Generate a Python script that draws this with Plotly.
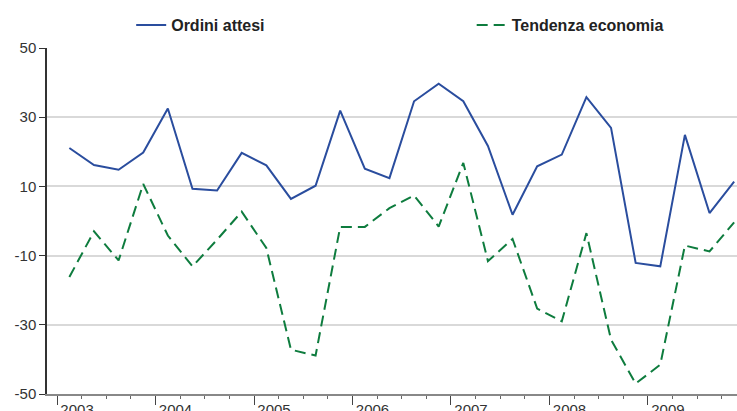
import plotly.graph_objects as go

# quarterly data 2003 Q1 - 2009 Q4
years = [2003, 2004, 2005, 2006, 2007, 2008, 2009]
year_labels = [str(y) for y in years]
quarters = [y + (q - 0.5) / 4 for y in years for q in range(1, 5)]

y_ticks = [-50, -30, -10, 10, 30, 50]
y_labels = [str(v) for v in y_ticks]

ordini_attesi = [21.1, 16.2, 14.8, 19.8, 32.5, 9.3, 8.8, 19.7,
                 16.1, 6.4, 10.2, 31.9, 15.1, 12.4, 34.6, 39.7,
                 34.6, 21.7, 1.8, 15.8, 19.2, 35.8, 26.9, -12.1,
                 -13.1, 24.9, 2.3, 11.4]
tendenza_economia = [-16.2, -3.0, -11.4, 10.7, -4.2, -13.1, -5.4, 2.7,
                     -7.8, -37.2, -38.9, -1.7, -1.7, 3.7, 7.4, -1.6,
                     16.8, -11.6, -5.2, -25.3, -29.0, -3.5, -34.3, -47.0,
                     -41.5, -7.1, -8.8, -0.4]

legend_font = dict(family='Liberation Sans', size=16, color='#222', weight='bold')

fig = go.Figure()
fig.add_trace(go.Scatter(
    x=quarters, y=ordini_attesi, mode='lines', name='Ordini attesi',
    line=dict(color='#2a4d9e', width=2), legend='legend',
))
fig.add_trace(go.Scatter(
    x=quarters, y=tendenza_economia, mode='lines', name='Tendenza economia',
    line=dict(color='#0e7c3e', width=2, dash='11px,6px'), legend='legend2',
))

fig.update_xaxes(
    range=[2002.898, 2009.904],
    tickvals=years, ticktext=year_labels,
    ticks='outside', ticklen=9, tickwidth=1, tickcolor='#444',
    ticklabelshift=20, ticklabelstandoff=-8, automargin=False,
    showline=True, linecolor='#888', linewidth=2,
    showgrid=False, zeroline=False,
    tickfont=dict(family='Liberation Sans', size=15, color='#333'),
    minor=dict(ticks='outside', ticklen=3, dtick=0.25, tick0=2003,
               tickcolor='#666', showgrid=False),
)
fig.update_yaxes(
    range=[-50, 50], tickvals=y_ticks, ticktext=y_labels,
    ticks='outside', ticklen=6, tickcolor='#333',
    showline=True, linecolor='#333', linewidth=1.5,
    showgrid=True, gridcolor='#d9d9d9', gridwidth=1.5,
    zeroline=False, automargin=False,
    tickfont=dict(family='Liberation Sans', size=15, color='#333'),
)
fig.update_layout(
    width=737, height=411,
    margin=dict(l=47, r=0, t=48, b=17, autoexpand=False),
    plot_bgcolor='white', paper_bgcolor='white',
    showlegend=True,
    legend=dict(
        orientation='h', xref='container', yref='container',
        x=0.178, y=0.98, xanchor='left', yanchor='top',
        font=legend_font, bgcolor='rgba(0,0,0,0)',
    ),
    legend2=dict(
        orientation='h', xref='container', yref='container',
        x=0.64, y=0.98, xanchor='left', yanchor='top',
        font=legend_font, bgcolor='rgba(0,0,0,0)',
    ),
)
# drop the default page margin so the figure sits at the window corner
fig.write_html("out.html", config={'displayModeBar': False},
               post_script="document.body.style.margin='0';")
